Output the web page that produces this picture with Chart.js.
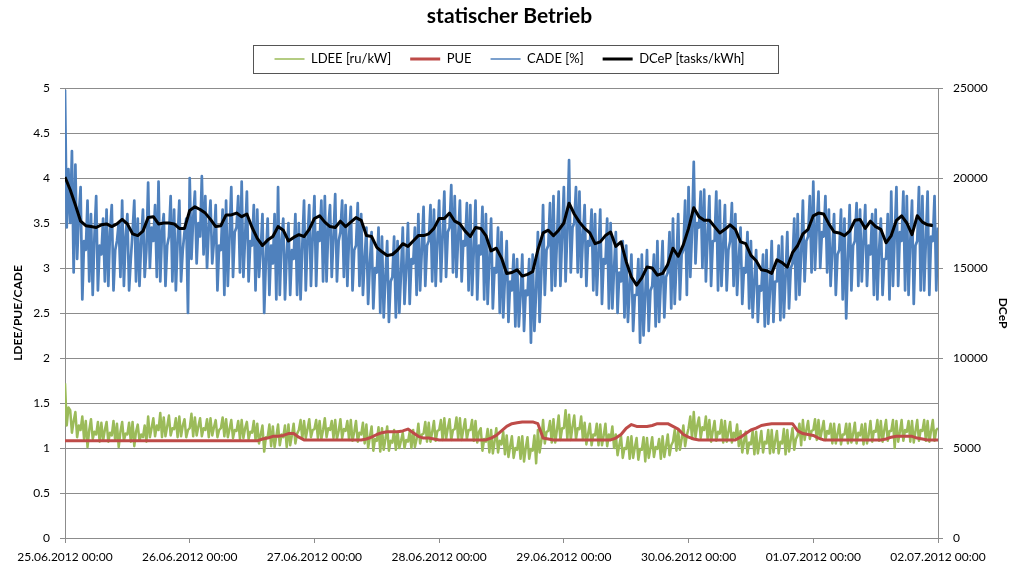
<!DOCTYPE html>
<html>
<head>
<meta charset="utf-8">
<title>statischer Betrieb</title>
<script src="https://cdn.jsdelivr.net/npm/chart.js@4.4.1/dist/chart.umd.min.js"></script>
<style>
  html, body { margin: 0; padding: 0; background: #fff; }
  #wrap { width: 1009px; height: 568px; }
</style>
</head>
<body>
<div id="wrap"><canvas id="chart" width="1009" height="568"></canvas></div>
<script>
// x axis runs in hours from 25.06.2012 00:00
const dayLabels = ['25.06.2012 00:00', '26.06.2012 00:00', '27.06.2012 00:00', '28.06.2012 00:00',
  '29.06.2012 00:00', '30.06.2012 00:00', '01.07.2012 00:00', '02.07.2012 00:00'];

// LDEE [ru/kW], one sample every 20 minutes
const ldeeValues = [
  1.72,1.25,1.45, 1.42,1.17,1.3, 1.4,1.12,1.25, 1.2,1.35,1.1, 1.3,1.01,1.2, 1.32,1.1,1.18, 1.15,1.29,1.07, 1.28,1.08,1.2, 1.29,1.07,1.17, 1.14,1.3,1.08, 1.27,1.01,1.18, 1.29,1.08,1.16, 1.15,1.28,1.07, 1.29,1.02,1.18, 1.26,1.08,1.15, 1.12,1.25,1.07, 1.35,1.12,1.22, 1.33,1.13,1.25, 1.2,1.39,1.12, 1.34,1.13,1.24, 1.36,1.14,1.22, 1.21,1.33,1.12, 1.35,1.13,1.25, 1.32,1.12,1.2,
  1.22,1.38,1.13, 1.34,1.14,1.24, 1.33,1.13,1.22, 1.2,1.32,1.12, 1.33,1.14,1.23, 1.31,1.12,1.2, 1.22,1.34,1.13, 1.32,1.12,1.21, 1.31,1.11,1.2, 1.19,1.3,1.1, 1.31,1.11,1.22, 1.29,1.1,1.18, 1.17,1.3,1.09, 1.27,1.05,1.15, 1.25,0.96,1.12, 1.12,1.26,1.02, 1.24,1.01,1.13, 1.26,1.03,1.15, 1.12,1.25,1.01, 1.26,1.03,1.14, 1.27,1.05,1.16, 1.2,1.31,1.1, 1.3,1.11,1.21, 1.32,1.12,1.2,
  1.21,1.31,1.11, 1.3,1.1,1.2, 1.33,1.12,1.22, 1.2,1.3,1.11, 1.31,1.1,1.19, 1.32,1.11,1.21, 1.19,1.3,1.09, 1.31,1.08,1.18, 1.3,1.07,1.17, 1.15,1.28,1.05, 1.26,1.0,1.12, 1.24,0.97,1.1, 1.08,1.23,0.96, 1.22,0.98,1.1, 1.24,0.97,1.08, 1.06,1.2,0.98, 1.18,1.0,1.08, 1.17,1.0,1.09, 1.07,1.18,1.0, 1.2,1.01,1.1, 1.27,1.05,1.15, 1.16,1.29,1.07, 1.28,1.07,1.18, 1.3,1.08,1.19,
  1.2,1.31,1.09, 1.33,1.1,1.22, 1.32,1.09,1.2, 1.21,1.34,1.1, 1.33,1.09,1.21, 1.32,1.1,1.2, 1.2,1.31,1.08, 1.3,1.06,1.18, 1.22,0.97,1.1, 1.07,1.21,0.95, 1.2,0.94,1.07, 1.22,0.95,1.08, 1.04,1.18,0.93, 1.14,0.9,1.02, 1.13,0.89,1.0, 0.98,1.12,0.88, 1.13,0.85,1.0, 1.12,0.88,0.99, 0.97,1.14,0.83, 1.2,0.95,1.08, 1.31,1.05,1.18, 1.19,1.3,1.06, 1.32,1.06,1.2, 1.36,1.09,1.22,
  1.22,1.42,1.1, 1.37,1.09,1.24, 1.36,1.1,1.22, 1.21,1.35,1.09, 1.28,1.04,1.16, 1.27,1.03,1.15, 1.14,1.27,1.03, 1.26,1.03,1.14, 1.27,1.02,1.15, 1.1,1.24,1.0, 1.15,0.92,1.03, 1.13,0.89,1.0, 0.99,1.12,0.88, 1.13,0.89,1.01, 1.11,0.87,0.99, 0.98,1.12,0.85, 1.11,0.89,1.0, 1.12,0.9,1.01, 0.99,1.1,0.88, 1.13,0.9,1.02, 1.15,0.92,1.03, 1.07,1.2,0.97, 1.2,0.98,1.1, 1.25,1.02,1.14,
  1.22,1.35,1.1, 1.4,1.12,1.25, 1.34,1.11,1.23, 1.2,1.35,1.1, 1.31,1.07,1.19, 1.3,1.08,1.18, 1.16,1.31,1.06, 1.3,1.07,1.18, 1.29,1.06,1.17, 1.12,1.26,1.02, 1.19,0.95,1.07, 1.18,0.94,1.06, 1.04,1.19,0.93, 1.18,0.94,1.06, 1.19,0.95,1.07, 1.05,1.2,0.94, 1.2,0.95,1.08, 1.19,0.94,1.07, 1.05,1.21,0.93, 1.2,0.96,1.09, 1.22,0.98,1.1, 1.14,1.27,1.03, 1.31,1.09,1.2, 1.3,1.1,1.19,
  1.2,1.32,1.09, 1.31,1.1,1.2, 1.3,1.09,1.19, 1.16,1.27,1.05, 1.27,1.05,1.16, 1.26,1.04,1.15, 1.15,1.27,1.05, 1.27,1.06,1.16, 1.28,1.05,1.17, 1.14,1.26,1.04, 1.27,1.05,1.15, 1.3,1.07,1.19, 1.18,1.31,1.08, 1.3,1.07,1.2, 1.31,1.08,1.19, 1.19,1.31,1.0, 1.3,1.07,1.18, 1.31,1.08,1.2, 1.18,1.3,1.07, 1.3,1.06,1.19, 1.31,1.08,1.2, 1.19,1.31,1.08, 1.3,1.07,1.19, 1.31,1.08,1.2,
  1.22
];

// PUE, hourly
const pueValues = [
  1.08,1.08,1.08,1.08,1.08,1.08,1.08,1.08,1.08,1.08,1.08,1.08,1.08,1.08,1.08,1.08,1.08,1.08,1.08,1.08,1.08,1.08,1.08,1.08,
  1.08,1.08,1.08,1.08,1.08,1.08,1.08,1.08,1.08,1.08,1.08,1.08,1.08,1.08,1.10,1.11,1.13,1.13,1.14,1.16,1.16,1.12,1.09,1.09,
  1.09,1.09,1.09,1.09,1.09,1.09,1.09,1.09,1.09,1.09,1.10,1.12,1.15,1.17,1.18,1.18,1.18,1.19,1.21,1.17,1.13,1.11,1.11,1.10,
  1.09,1.09,1.09,1.09,1.09,1.09,1.09,1.09,1.09,1.09,1.11,1.14,1.19,1.24,1.27,1.28,1.29,1.29,1.29,1.27,1.11,1.10,1.09,1.09,
  1.09,1.09,1.09,1.09,1.09,1.09,1.09,1.09,1.09,1.09,1.11,1.15,1.22,1.26,1.24,1.24,1.24,1.25,1.27,1.27,1.27,1.24,1.21,1.15,
  1.12,1.10,1.09,1.09,1.09,1.09,1.09,1.09,1.09,1.09,1.12,1.16,1.20,1.22,1.25,1.26,1.27,1.27,1.27,1.27,1.27,1.19,1.16,1.15,
  1.14,1.11,1.09,1.09,1.09,1.09,1.09,1.09,1.09,1.09,1.09,1.09,1.09,1.09,1.10,1.12,1.13,1.13,1.13,1.13,1.11,1.10,1.09,1.09,
  1.09
];

// CADE [%], one sample every 20 minutes
const cadeValues = [
  4.98,3.45,4.1, 3.5,4.3,2.95, 4.15,3.1,3.6, 3.9,2.65,3.3, 3.2,3.75,2.85, 3.6,2.7,3.35, 3.8,2.75,3.25, 3.15,3.55,2.85, 3.65,2.8,3.4, 3.7,2.75,3.2, 3.3,3.5,2.9, 3.75,2.8,3.35, 3.6,2.75,3.1, 3.4,3.75,2.85, 3.55,2.8,3.3, 3.65,2.9,3.2, 3.95,3.0,3.45, 3.3,3.7,2.9, 3.96,2.85,3.4, 3.6,2.8,3.25, 3.35,3.8,2.85, 3.65,2.75,3.3, 3.75,2.85,3.2, 3.4,3.55,2.5,
  4.0,3.1,3.55, 3.85,3.05,3.5, 3.35,4.02,3.15, 3.8,3.0,3.45, 3.75,3.05,3.3, 3.7,2.75,3.25, 3.2,3.65,2.7, 3.75,2.8,3.35, 3.9,2.9,3.4, 3.45,3.8,2.95, 3.96,2.9,3.35, 3.85,2.85,3.3, 3.25,3.7,2.75, 3.65,2.9,3.2, 3.6,2.5,3.1, 3.55,2.7,3.25, 3.05,3.6,2.65, 3.9,2.7,3.3, 3.55,2.65,3.15, 3.5,2.7,3.2, 3.1,3.6,2.7, 3.5,2.65,3.25, 3.75,2.75,3.3, 3.7,2.8,3.35,
  3.8,2.8,3.4, 3.3,3.75,2.85, 3.8,2.85,3.45, 3.7,2.9,3.35, 3.82,2.85,3.3, 3.4,3.75,2.9, 3.7,2.8,3.35, 3.68,2.75,3.2, 3.25,3.72,2.8, 3.6,2.7,3.1, 3.45,2.6,3.05, 3.4,2.55,3.0, 2.95,3.45,2.5, 3.35,2.45,2.9, 3.3,2.4,2.85, 2.9,3.35,2.45, 3.3,2.5,2.95, 3.45,2.6,3.0, 3.5,2.6,3.1, 3.05,3.45,2.7, 3.6,2.75,3.2, 3.68,2.8,3.25, 3.3,3.7,2.85, 3.65,2.8,3.3,
  3.75,2.85,3.35, 3.85,2.9,3.4, 3.45,3.92,2.95, 3.8,2.9,3.35, 3.75,2.85,3.3, 3.25,3.72,2.75, 3.7,2.7,3.2, 3.75,2.65,3.25, 3.15,3.68,2.65, 3.6,2.6,3.1, 3.55,2.55,3.0, 2.95,3.45,2.5, 3.4,2.45,2.9, 3.3,2.4,2.85, 2.75,3.15,2.35, 3.1,2.35,2.7, 3.15,2.3,2.75, 2.7,3.1,2.17, 3.15,2.3,2.75, 3.4,2.4,2.95, 3.7,2.7,3.2, 3.25,3.72,2.75, 3.8,2.8,3.3, 3.85,2.8,3.35,
  3.9,2.85,3.4, 4.2,2.95,3.45, 3.5,3.9,2.95, 3.85,2.9,3.35, 3.7,2.8,3.3, 3.25,3.65,2.75, 3.6,2.7,3.15, 3.65,2.6,3.1, 3.05,3.55,2.55, 3.5,2.55,3.0, 3.4,2.5,2.95, 2.85,3.3,2.45, 3.25,2.4,2.8, 3.15,2.3,2.7, 2.7,3.1,2.17, 3.15,2.25,2.7, 3.2,2.3,2.75, 2.8,3.15,2.35, 3.3,2.4,2.85, 3.3,2.45,2.9, 2.95,3.4,2.55, 3.55,2.6,3.05, 3.6,2.65,3.15, 3.2,3.75,2.7,
  3.9,2.9,3.4, 4.18,3.05,3.5, 3.45,3.85,3.0, 3.87,2.85,3.35, 3.8,2.8,3.3, 3.3,3.85,2.75, 3.75,2.8,3.25, 3.7,2.75,3.2, 3.3,3.72,2.8, 3.6,2.7,3.1, 3.45,2.6,3.0, 2.95,3.4,2.55, 3.3,2.45,2.85, 3.2,2.4,2.8, 2.75,3.15,2.35, 3.2,2.38,2.75, 3.3,2.4,2.85, 2.85,3.25,2.42, 3.35,2.45,2.9, 3.4,2.55,3.0, 3.05,3.55,2.65, 3.6,2.7,3.15, 3.75,2.85,3.3, 3.35,3.8,2.95,
  3.96,2.98,3.45, 3.85,3.0,3.4, 3.35,3.8,2.95, 3.65,2.8,3.2, 3.6,2.7,3.15, 3.2,3.65,2.65, 3.55,2.44,3.1, 3.7,2.75,3.25, 3.3,3.72,2.8, 3.65,2.85,3.3, 3.7,2.8,3.25, 3.15,3.6,2.7, 3.65,2.65,3.2, 3.55,2.7,3.1, 3.1,3.6,2.65, 3.85,2.8,3.35, 3.9,2.8,3.4, 3.3,3.85,2.75, 3.8,2.7,3.3, 3.75,2.6,3.25, 3.3,3.9,2.75, 3.8,2.75,3.3, 3.85,2.7,3.35, 3.3,3.8,2.75,
  3.45
];

// DCeP [tasks/kWh], hourly
const dcepValues = [
  20050,19350,18500,17600,17350,17300,17250,17400,17450,17300,17450,17700,17450,16900,16800,17050,17800,17850,17450,17500,17500,17450,17200,17200,
  18200,18400,18250,18050,17700,17300,17350,17950,17950,18050,17850,18000,17250,16650,16250,16550,16750,17300,17100,16500,16700,16850,16750,17150,
  17750,17900,17550,17300,17250,17600,17300,17550,17800,17650,16800,16750,16150,15900,15700,15750,16000,16350,16200,16500,16800,16800,16900,17200,
  17750,17750,18050,17600,17450,17050,16750,17250,17200,16800,15950,16100,15550,14700,14750,14900,14550,14650,14800,16000,16950,17100,16800,17100,
  17500,18600,18000,17550,17200,16950,16350,16450,16800,17000,16200,16450,15350,14500,14050,14450,15050,15000,14600,14700,15200,16100,15650,16300,
  17200,18350,17850,17650,17650,17300,16950,17150,17400,17150,16450,16350,15700,15400,14900,14850,14700,15450,15300,15050,15850,16250,16900,17150,
  17900,18050,18000,17450,17000,16950,16800,17050,17650,17700,17200,17600,17300,17150,16400,16800,17650,17900,17500,16850,17900,17550,17400,17350
];

const FINE_STEP = 1 / 3;   // hours between 20-minute samples
const HOUR_STEP = 1;

function toPoints(values, step) {
  return values.map((v, i) => ({ x: i * step, y: v }));
}

function series(label, values, step, color, width, axis, order) {
  return {
    label,
    data: toPoints(values, step),
    yAxisID: axis,
    borderColor: color,
    backgroundColor: color,
    borderWidth: width,
    pointBorderColor: color,
    pointBorderWidth: width,
    pointRadius: 0,
    pointHoverRadius: 0,
    borderJoinStyle: 'round',
    tension: 0,
    fill: false,
    order
  };
}

const gridColor = '#8c8c8c';
const legendPad = 19;

// draws the frame around the legend row
const legendFrame = {
  id: 'legendFrame',
  afterDraw(chart) {
    const boxes = chart.legend && chart.legend.legendHitBoxes;
    if (!boxes || !boxes.length) return;
    const ctx = chart.ctx;
    const left = Math.min(...boxes.map(b => b.left)) - 22;
    const right = Math.max(...boxes.map(b => b.left + b.width)) + 33;
    const mid = boxes[0].top + boxes[0].height / 2;
    ctx.save();
    ctx.strokeStyle = '#555';
    ctx.lineWidth = 1;
    ctx.strokeRect(Math.round(left) + 0.5, Math.round(mid - 14) + 0.5, Math.round(right - left), 28);
    ctx.restore();
  }
};

// leaves a gap between the legend row and the plot
const legendGap = {
  id: 'legendGap',
  beforeLayout(chart) {
    const legend = chart.legend;
    if (!legend || legend._gapPatched) return;
    const fit = legend.fit;
    legend.fit = function () {
      fit.call(this);
      this.height = 54.5;
    };
    legend._gapPatched = true;
  }
};

Chart.defaults.font.family = 'Lato, "Open Sans", sans-serif';
Chart.defaults.color = '#000';

new Chart(document.getElementById('chart'), {
  type: 'line',
  data: {
    datasets: [
      series('LDEE [ru/kW]', ldeeValues, FINE_STEP, '#9bbb59', 2.5, 'y', 4),
      series('PUE', pueValues, HOUR_STEP, '#be4b48', 3, 'y', 3),
      series('CADE [%]', cadeValues, FINE_STEP, '#4f81bd', 2.7, 'y', 2),
      series('DCeP [tasks/kWh]', dcepValues, HOUR_STEP, '#000000', 3, 'y1', 1)
    ]
  },
  plugins: [legendGap, legendFrame],
  options: {
    responsive: false,
    animation: false,
    devicePixelRatio: 1,
    events: [],
    layout: { padding: { left: 10, right: 0, top: 0, bottom: 0 } },
    plugins: {
      title: {
        display: true,
        text: 'statischer Betrieb',
        font: { size: 21, weight: 'bold' },
        color: '#000',
        padding: { top: 4, bottom: 4.3 }
      },
      legend: {
        position: 'top',
        labels: {
          usePointStyle: true,
          pointStyle: 'line',
          pointStyleWidth: 30,
          padding: legendPad,
          font: { size: 13 },
          color: '#000',
          sort: (a, b) => a.datasetIndex - b.datasetIndex,
          generateLabels: chart => Chart.defaults.plugins.legend.labels.generateLabels(chart)
            .map(item => Object.assign(item, { lineWidth: item.datasetIndex % 2 ? 3 : 1.5 }))
        }
      },
      tooltip: { enabled: false }
    },
    scales: {
      x: {
        type: 'linear',
        min: 0,
        max: 168,
        ticks: {
          stepSize: 24,
          autoSkip: false,
          maxRotation: 0,
          padding: 7,
          font: { size: 12 },
          callback: v => dayLabels[Math.round(v / 24)]
        },
        grid: { drawOnChartArea: false, drawTicks: true, tickLength: 5, color: gridColor },
        border: { color: gridColor },
        afterFit: s => { s.height = 30; }
      },
      y: {
        position: 'left',
        min: 0,
        max: 5,
        ticks: { stepSize: 0.5, padding: 10, font: { size: 12 }, callback: v => String(v) },
        grid: { color: gridColor, tickLength: 5 },
        border: { color: gridColor },
        title: {
          display: true,
          text: 'LDEE/PUE/CADE',
          font: { size: 12, weight: 'bold', lineHeight: 1 },
          padding: { top: 2, bottom: 0 }
        },
        afterFit: s => { s.width = 55; }
      },
      y1: {
        position: 'right',
        min: 0,
        max: 25000,
        ticks: { stepSize: 5000, padding: 10, font: { size: 12 }, callback: v => String(v) },
        grid: { drawOnChartArea: false, color: gridColor, tickLength: 5 },
        border: { color: gridColor },
        title: {
          display: true,
          text: 'DCeP',
          font: { size: 12, weight: 'bold', lineHeight: 1 },
          padding: { top: 0, bottom: 0 }
        },
        afterFit: s => { s.width = 71; }
      }
    }
  }
});
</script>
</body>
</html>
